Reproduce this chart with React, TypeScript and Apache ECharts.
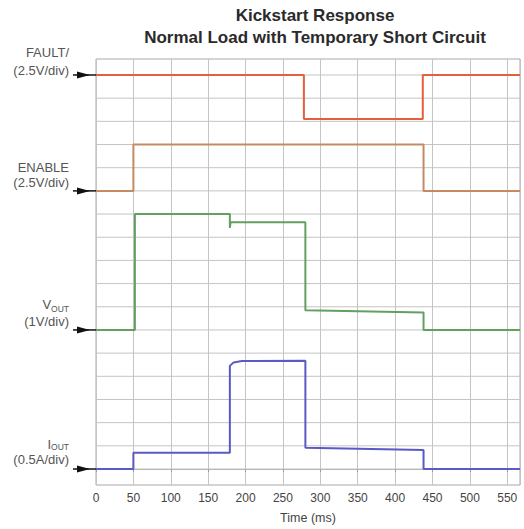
import React, { useEffect, useRef } from "react";
import * as echarts from "echarts";

const xTicks = [0, 50, 100, 150, 200, 250, 300, 350, 400, 450, 500, 550];
const xMax = 567;
const gridRows = [0, 1, 2, 3, 4, 5, 6, 7, 8, 9, 10, 11, 12, 13, 14, 15, 16, 17];

const faultData = [[0, 17], [278, 17], [278, 15.1], [437, 15.1], [437, 17], [567, 17]];
const enableData = [[0, 12], [50, 12], [50, 14], [438, 14], [438, 12], [567, 12]];
const voutData = [[0, 6], [52, 6], [52, 11], [179, 11], [179, 10.4], [180, 10.65], [280, 10.65], [280, 6.85], [438, 6.75], [438, 6], [567, 6]];
const ioutData = [[0, 0], [50, 0], [50, 0.7], [179, 0.7], [179, 4.45], [184, 4.6], [195, 4.66], [280, 4.67], [280, 0.92], [438, 0.82], [438, 0], [567, 0]];

const baselines = [17, 12, 6, 0];
const labelTexts = [
  ["FAULT/", "(2.5V/div)"],
  ["ENABLE", "(2.5V/div)"],
  ["V{sub|OUT}", "(1V/div)"],
  ["I{sub|OUT}", "(0.5A/div)"],
];
// pixel offset of the second label line's centre above its baseline, and line spacing
const labelLayout = [
  { above: 4, lh: 18 },
  { above: 8, lh: 15 },
  { above: 8, lh: 17 },
  { above: 10, lh: 15 },
];

const FONT = "'Liberation Sans', Arial, sans-serif";

export default function App() {
  const ref = useRef<HTMLDivElement>(null);
  useEffect(() => {
    const chart = echarts.init(ref.current!, null, { renderer: "svg" });
    const line = (name: string, data: number[][], color: string) => ({
      name,
      type: "line",
      data,
      symbol: "none",
      z: 3,
      lineStyle: { color, width: 2 },
    });
    chart.setOption({
      animation: false,
      backgroundColor: "#ffffff",
      textStyle: { fontFamily: FONT },
      title: {
        text: "Kickstart Response\nNormal Load with Temporary Short Circuit",
        left: 315,
        top: 4,
        padding: 0,
        textAlign: "center",
        textStyle: { fontSize: 17, fontWeight: "bold", color: "#2a2a2a", lineHeight: 22, fontFamily: FONT },
      },
      grid: { left: 96, right: 4, top: 59, bottom: 44, show: true, borderColor: "#a8a8a8", borderWidth: 1 },
      xAxis: {
        type: "value",
        min: 0,
        max: xMax,
        interval: 50,
        name: "Time (ms)",
        nameLocation: "middle",
        nameGap: 26,
        nameTextStyle: { fontSize: 12.5, color: "#444", fontFamily: FONT },
        axisLine: { show: true, lineStyle: { color: "#a8a8a8" } },
        axisTick: { show: true, length: 3, lineStyle: { color: "#999" } },
        axisLabel: {
          fontSize: 12,
          color: "#444",
          margin: 7,
          showMaxLabel: false,
          formatter: (v: number) => (xTicks.includes(v) ? String(v) : ""),
        },
        splitLine: { show: true, lineStyle: { color: "#c4c4c4", width: 1 } },
      },
      yAxis: {
        type: "value",
        min: -0.69,
        max: 17.69,
        axisLine: { show: false },
        axisTick: { show: false },
        axisLabel: { show: false },
        splitLine: { show: false },
      },
      series: [
        {
          type: "custom",
          z: 1,
          silent: true,
          data: gridRows.map((r) => [r]),
          renderItem: (params: any, api: any) => {
            const r = api.value(0);
            const a = api.coord([0, r]);
            const b = api.coord([xMax, r]);
            return {
              type: "line",
              shape: { x1: a[0], y1: a[1], x2: b[0], y2: b[1] },
              style: { stroke: "#c4c4c4", lineWidth: 1 },
            };
          },
        },
        line("FAULT", faultData, "#e2603e"),
        line("ENABLE", enableData, "#c48a64"),
        line("VOUT", voutData, "#62a062"),
        line("IOUT", ioutData, "#5a5ac4"),
      ],
    });

    const elements: any[] = [];
    baselines.forEach((b, i) => {
      const p = chart.convertToPixel({ gridIndex: 0 }, [0, b]) as number[];
      const y = p[1];
      const x = p[0];
      elements.push({
        type: "line",
        shape: { x1: x - 23, y1: y, x2: x, y2: y },
        style: { stroke: "#111", lineWidth: 1.5 },
        z: 10,
      });
      elements.push({
        type: "polygon",
        shape: { points: [[x - 19, y - 3.5], [x - 6, y], [x - 19, y + 3.5]] },
        style: { fill: "#111" },
        z: 10,
      });
      const lay = labelLayout[i];
      elements.push({
        type: "text",
        x: 69,
        y: y - lay.above + lay.lh / 2,
        style: {
          text: labelTexts[i].join("\n"),
          align: "right",
          verticalAlign: "bottom",
          fontSize: 13,
          lineHeight: lay.lh,
          fill: "#555",
          fontFamily: FONT,
          rich: {
            sub: { fontSize: 8.5, fill: "#555", verticalAlign: "bottom", padding: [3, 0, 0, 0], lineHeight: lay.lh },
          },
        },
        z: 10,
      });
    });
    chart.setOption({ graphic: { elements } });
    return () => chart.dispose();
  }, []);
  return (
    <div
      ref={ref}
      style={{ position: "fixed", left: 0, top: 0, width: 524, height: 529, background: "#fff" }}
    />
  );
}
